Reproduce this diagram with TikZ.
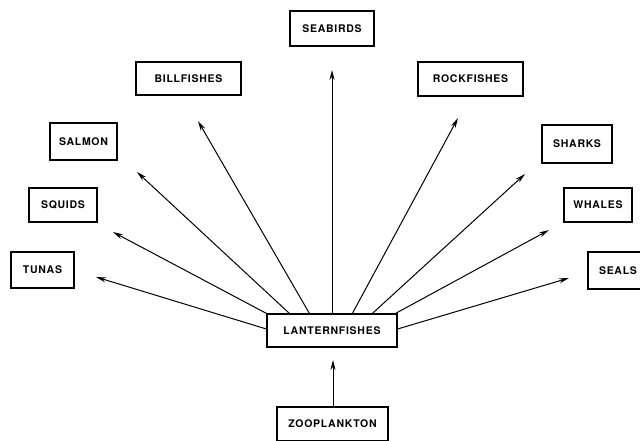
\documentclass[tikz,border=0pt]{standalone}
\usepackage{fontspec}
\setmainfont{TeX Gyre Heros}[LetterSpace=7]
\usetikzlibrary{arrows.meta}
\begin{document}
\begin{tikzpicture}[x=1pt,y=-1pt,
  box/.style={draw,line width=1.2pt,inner sep=0pt,font=\fontsize{10.5}{12}\selectfont\bfseries},
  arr/.style={line width=1pt,-{Stealth[length=10pt,width=5pt]}}]
\useasboundingbox (0,0) rectangle (640,441);
\node[box,minimum width=84pt,minimum height=35pt] (sea) at (332,28.5) {SEABIRDS};
\node[box,minimum width=105pt,minimum height=33pt] (bill) at (188.5,78.5) {BILLFISHES};
\node[box,minimum width=67pt,minimum height=37pt] (salm) at (83.5,141.5) {SALMON};
\node[box,minimum width=68pt,minimum height=34pt] (squ) at (63,205) {SQUIDS};
\node[box,minimum width=63pt,minimum height=36pt] (tun) at (42.5,270) {TUNAS};
\node[box,minimum width=105pt,minimum height=34pt] (rock) at (470.5,79) {ROCKFISHES};
\node[box,minimum width=70pt,minimum height=38pt] (shk) at (577,144) {SHARKS};
\node[box,minimum width=68pt,minimum height=34pt] (wha) at (598,205) {WHALES};
\node[box,minimum width=60pt,minimum height=37pt] (seal) at (618,270.5) {SEALS};
\node[box,minimum width=130pt,minimum height=33pt] (lan) at (332,330.5) {LANTERNFISHES};
\node[box,minimum width=111pt,minimum height=34pt] (zoo) at (332.5,424) {ZOOPLANKTON};
\coordinate (tsea) at (332,70);
\coordinate (tbill) at (198,121);
\coordinate (tsalm) at (137,172);
\coordinate (tsqu) at (113,232);
\coordinate (ttun) at (96,277);
\coordinate (trock) at (458,118);
\coordinate (tshk) at (525,174);
\coordinate (twha) at (549,230);
\coordinate (tseal) at (569,278);
\coordinate (tlan) at (333,360);
\draw[arr] (lan.north) -- (tsea);
\draw[arr] ([xshift=43pt]lan.north west) -- (tbill);
\draw[arr] ([xshift=23pt]lan.north west) -- (tsalm);
\draw[arr] (lan.north west) -- (tsqu);
\draw[arr] ([yshift=1.5pt]lan.west) -- (ttun);
\draw[arr] ([xshift=86pt]lan.north west) -- (trock);
\draw[arr] ([xshift=106pt]lan.north west) -- (tshk);
\draw[arr] ([xshift=-2pt]lan.north east) -- (twha);
\draw[arr] ([yshift=1.5pt]lan.east) -- (tseal);
\draw[arr] ([xshift=0.5pt]zoo.north) -- (tlan);
\end{tikzpicture}
\end{document}
